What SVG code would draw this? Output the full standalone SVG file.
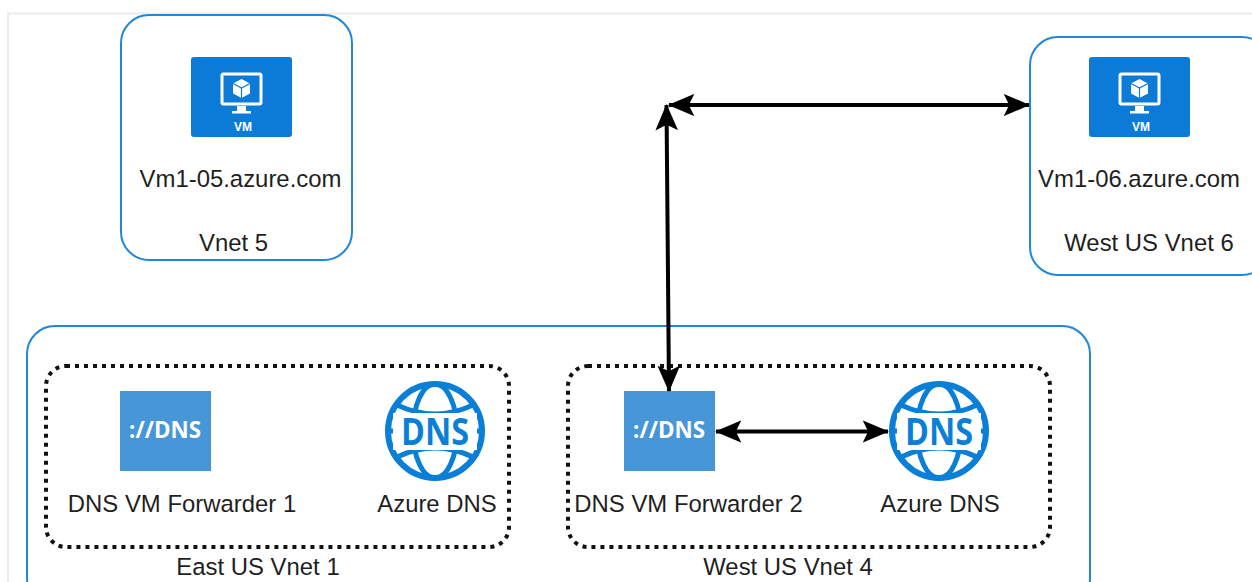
<svg xmlns="http://www.w3.org/2000/svg" xmlns:xlink="http://www.w3.org/1999/xlink" width="1252" height="582" viewBox="0 0 1252 582">
<style>
text{font-family:"Liberation Sans",Arial,sans-serif;font-size:23.900px;fill:#1f1f1f;text-anchor:middle}
.box{fill:#fff;stroke:#1f88d8;stroke-width:2}
.dot{fill:none;stroke:#111;stroke-width:4;stroke-dasharray:4 5}
.conn{fill:none;stroke:#000;stroke-width:4;marker-start:url(#ah);marker-end:url(#ah)}
.dnsbox{fill:#4696d8}
.dnst{font-family:"Open Sans","Noto Sans",sans-serif;font-size:22.500px;font-weight:700;fill:#fff}
.g{fill:none;stroke:#0a7fd8;stroke-width:6}
.dnsg{font-family:"Open Sans","Noto Sans",sans-serif;font-size:37px;font-weight:700;fill:#0a7fd8}
</style>
<defs>
<marker id="ah" viewBox="0 0 14 12" refX="13.500" refY="6" markerWidth="6.600" markerHeight="6.400" orient="auto-start-reverse"><path d="M0 0L14 6L0 12L3 6Z" fill="#000"/></marker>
<g id="vm">
<rect x="0" y="0" width="101" height="80" rx="3" fill="#0c7bd8"/>
<rect x="31" y="17" width="39" height="30" rx="1.500" fill="none" stroke="#fff" stroke-width="3"/>
<path d="M50.500 22l8.500 4.500v10l-8.500 4.500-8.500-4.500v-10z" fill="#fff"/>
<path d="M42 26.500l8.500 4.500 8.500-4.500M50.500 31v10" stroke="#0c7bd8" stroke-width="1.200" fill="none"/>
<path d="M46 49h9v5h5v2.500H41V54h5z" fill="#fff"/>
<text x="52" y="74" style="font-size:12px;font-weight:700;fill:#fff">VM</text>
</g>
<g id="fwd">
<rect x="0" y="0" width="91" height="80" class="dnsbox"/>
<text x="45" y="47" class="dnst" textLength="72" lengthAdjust="spacingAndGlyphs">://DNS</text>
</g>
<g id="globe">
<circle cx="50" cy="50" r="47" class="g"/>
<ellipse cx="50" cy="50" rx="22" ry="47" class="g" style="stroke-width:5"/>
<path d="M12 24Q50 42 88 24M12 76Q50 58 88 76" class="g" style="stroke-width:5"/>
<rect x="8" y="32" width="84" height="37" fill="#fff"/>
<path d="M1 50H8M92 50h7" class="g" style="stroke-width:5"/>
<text x="50" y="64" class="dnsg" textLength="68" lengthAdjust="spacingAndGlyphs">DNS</text>
</g>
</defs>
<path d="M8 582V13.500H1252" fill="none" stroke="#ececec" stroke-width="2"/>
<g id="vnet5">
<rect x="121" y="15" width="231" height="245" rx="28" class="box"/>
<use xlink:href="#vm" href="#vm" x="191" y="57"/>
<text x="240.500" y="187">Vm1-05.azure.com</text>
<text x="233.500" y="251">Vnet 5</text>
</g>
<g id="vnet6">
<rect x="1030" y="37" width="240" height="238" rx="28" class="box"/>
<use xlink:href="#vm" href="#vm" x="1089" y="57"/>
<text x="1139" y="187">Vm1-06.azure.com</text>
<text x="1149" y="251">West US Vnet 6</text>
</g>
<g id="outer">
<rect x="27" y="326" width="1063" height="280" rx="28" class="box"/>
</g>
<g id="eastus">
<rect x="46" y="366" width="463" height="181" rx="20" class="dot"/>
<text x="258" y="575">East US Vnet 1</text>
</g>
<g id="westus">
<rect x="568" y="366" width="482" height="181" rx="20" class="dot"/>
<text x="788" y="575">West US Vnet 4</text>
</g>
<g id="fwd1">
<use xlink:href="#fwd" href="#fwd" x="120" y="391"/>
<text x="182" y="512">DNS VM Forwarder 1</text>
</g>
<g id="dns1">
<use xlink:href="#globe" href="#globe" x="385" y="381"/>
<text x="437" y="512">Azure DNS</text>
</g>
<g id="fwd2">
<use xlink:href="#fwd" href="#fwd" x="624" y="391"/>
<text x="688.500" y="512">DNS VM Forwarder 2</text>
</g>
<g id="dns2">
<use xlink:href="#globe" href="#globe" x="889" y="381"/>
<text x="940" y="512">Azure DNS</text>
</g>
<g id="connectors">
<path d="M669 105H1029" class="conn"/>
<path d="M666.500 105L669 391" class="conn"/>
<path d="M716 431.500H888" class="conn"/>
</g>
</svg>
